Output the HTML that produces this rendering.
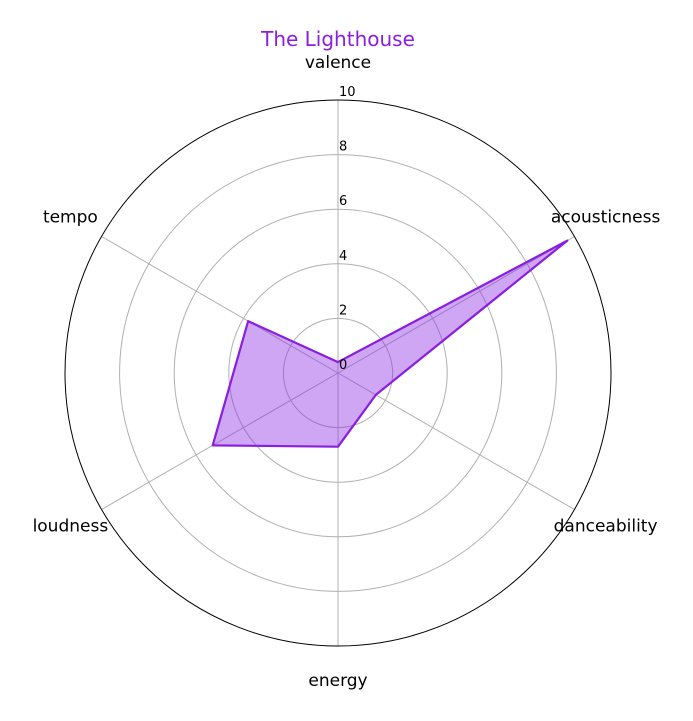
<!DOCTYPE html>
<html><head><meta charset="utf-8">
<style>
html,body{margin:0;padding:0;background:#fff;}
svg{display:block;font-family:"DejaVu Sans","Liberation Sans",sans-serif;}
</style></head>
<body>
<svg id="chart" width="693" height="721"></svg>
<script>
const categories = ["valence","acousticness","danceability","energy","loudness","tempo"];
const values = [0.4, 9.7, 1.6, 2.7, 5.3, 3.8];
const tickLabels = ["0","2","4","6","8","10"];
const tickValues = [0,2,4,6,8,10];

const NS = "http://www.w3.org/2000/svg";
const svg = document.getElementById("chart");
const cx = 338, cy = 373, R = 273, maxV = 10;
function rScale(v){ return v / maxV * R; }
function angleFor(i){ return Math.PI/2 - i * 2*Math.PI/categories.length; }
function pt(i, v){ const a = angleFor(i), r = rScale(v); return [cx + r*Math.cos(a), cy - r*Math.sin(a)]; }
function mk(tag, attrs){ const e = document.createElementNS(NS, tag); for (const k in attrs) e.setAttribute(k, attrs[k]); svg.appendChild(e); return e; }

tickValues.forEach((t, k) => {
  if (t === 0 || t === maxV) return;
  const c = mk("circle", {cx, cy, r: rScale(t), fill: "none", stroke: "#b0b0b0", "stroke-width": 1});
  
  
});
categories.forEach((c, i) => {
  const [x, y] = pt(i, maxV);
  const l = mk("line", {x1: cx, y1: cy, x2: x, y2: y, stroke: "#b0b0b0", "stroke-width": 1});
  
  
});
const outer = mk("circle", {cx, cy, r: R, fill: "none", stroke: "#000", "stroke-width": 1});



const pts = values.map((v, i) => pt(i, v).join(",")).join(" ");
const poly = mk("polygon", {points: pts, fill: "rgba(138,43,226,0.42)", stroke: "#8a1ee0", "stroke-width": 2.2, "stroke-linejoin": "round"});



tickValues.forEach((t, k) => {
  const tx = mk("text", {x: cx + 1, y: cy - rScale(t) - 4, "font-size": 13, fill: "#000"});
  tx.textContent = tickLabels[k];
  
  
});

const labelR = 309;
categories.forEach((c, i) => {
  const a = angleFor(i);
  const x = cx + labelR*Math.cos(a), y = cy - labelR*Math.sin(a);
  const tx = mk("text", {x: x, y: y + 4, "font-size": 17, "text-anchor": "middle", fill: "#000"});
  tx.textContent = c;
  
  
});

const title = mk("text", {x: 338, y: 46, "font-size": 20, "text-anchor": "middle", fill: "#8a1ee0"});
title.textContent = "The Lighthouse";


</script>
</body></html>
